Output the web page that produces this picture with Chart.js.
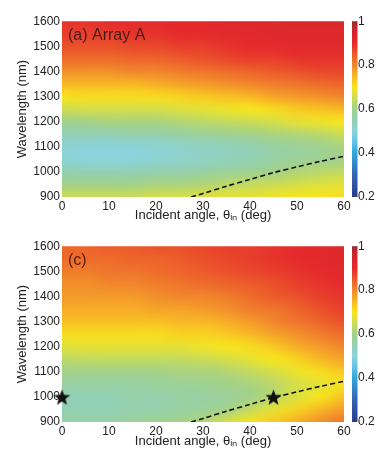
<!DOCTYPE html>
<html>
<head>
<meta charset="utf-8">
<script src="https://cdn.jsdelivr.net/npm/chart.js@4.4.1/dist/chart.umd.min.js"></script>
<style>
  html, body { margin: 0; padding: 0; background: #fff; }
  canvas { display: block; }
</style>
</head>
<body>
<canvas id="chartA" width="382" height="225"></canvas>
<canvas id="chartC" width="382" height="226"></canvas>
<script>
// grid of the maps: angles (deg) across, wavelengths (nm) from top to bottom
const angles = [0, 5, 10, 15, 20, 25, 30, 35, 40, 45, 50, 55, 60];
const wavelengths = [1600, 1550, 1500, 1450, 1400, 1350, 1300, 1250, 1200, 1150, 1100, 1050, 1000, 950, 900];

// (a) Array A, one row per wavelength
const absArrayA = [
    [0.89, 0.89, 0.90, 0.90, 0.90, 0.91, 0.91, 0.92, 0.92, 0.92, 0.93, 0.93, 0.93],
    [0.88, 0.88, 0.88, 0.89, 0.89, 0.90, 0.90, 0.91, 0.91, 0.92, 0.92, 0.92, 0.92],
    [0.86, 0.86, 0.86, 0.87, 0.87, 0.88, 0.88, 0.89, 0.90, 0.90, 0.91, 0.91, 0.91],
    [0.83, 0.83, 0.83, 0.84, 0.84, 0.85, 0.86, 0.87, 0.88, 0.88, 0.89, 0.89, 0.89],
    [0.79, 0.79, 0.79, 0.80, 0.80, 0.81, 0.82, 0.83, 0.84, 0.85, 0.86, 0.87, 0.87],
    [0.75, 0.75, 0.75, 0.75, 0.76, 0.77, 0.78, 0.79, 0.80, 0.81, 0.82, 0.83, 0.84],
    [0.70, 0.71, 0.71, 0.71, 0.71, 0.72, 0.73, 0.74, 0.75, 0.77, 0.78, 0.79, 0.80],
    [0.65, 0.66, 0.66, 0.66, 0.66, 0.67, 0.68, 0.69, 0.70, 0.71, 0.73, 0.74, 0.75],
    [0.60, 0.60, 0.61, 0.61, 0.61, 0.62, 0.63, 0.64, 0.65, 0.66, 0.68, 0.69, 0.70],
    [0.55, 0.55, 0.55, 0.56, 0.56, 0.57, 0.58, 0.59, 0.60, 0.61, 0.62, 0.63, 0.65],
    [0.51, 0.50, 0.50, 0.50, 0.51, 0.52, 0.53, 0.54, 0.55, 0.57, 0.58, 0.59, 0.61],
    [0.51, 0.50, 0.50, 0.50, 0.51, 0.52, 0.53, 0.54, 0.55, 0.57, 0.58, 0.59, 0.60],
    [0.55, 0.55, 0.55, 0.55, 0.56, 0.56, 0.57, 0.58, 0.59, 0.60, 0.62, 0.63, 0.64],
    [0.60, 0.60, 0.60, 0.60, 0.61, 0.61, 0.62, 0.63, 0.64, 0.65, 0.66, 0.67, 0.68],
    [0.65, 0.65, 0.65, 0.65, 0.66, 0.66, 0.67, 0.68, 0.68, 0.69, 0.70, 0.70, 0.71]
];

// (c)
const absArrayC = [
    [0.84, 0.84, 0.85, 0.85, 0.86, 0.86, 0.87, 0.88, 0.88, 0.89, 0.90, 0.91, 0.92],
    [0.83, 0.83, 0.83, 0.84, 0.84, 0.85, 0.86, 0.87, 0.88, 0.89, 0.90, 0.91, 0.92],
    [0.81, 0.81, 0.82, 0.82, 0.83, 0.84, 0.85, 0.86, 0.87, 0.88, 0.89, 0.90, 0.91],
    [0.79, 0.79, 0.80, 0.80, 0.81, 0.82, 0.83, 0.84, 0.85, 0.86, 0.88, 0.89, 0.90],
    [0.78, 0.78, 0.78, 0.78, 0.79, 0.80, 0.80, 0.81, 0.83, 0.85, 0.86, 0.88, 0.89],
    [0.76, 0.76, 0.76, 0.76, 0.77, 0.77, 0.78, 0.79, 0.81, 0.82, 0.84, 0.86, 0.88],
    [0.74, 0.74, 0.74, 0.74, 0.74, 0.75, 0.75, 0.76, 0.78, 0.80, 0.82, 0.84, 0.86],
    [0.71, 0.71, 0.71, 0.71, 0.71, 0.72, 0.72, 0.73, 0.75, 0.77, 0.79, 0.81, 0.83],
    [0.67, 0.68, 0.68, 0.68, 0.68, 0.68, 0.69, 0.70, 0.71, 0.73, 0.76, 0.78, 0.80],
    [0.63, 0.64, 0.64, 0.64, 0.64, 0.64, 0.65, 0.66, 0.68, 0.70, 0.72, 0.75, 0.77],
    [0.60, 0.60, 0.60, 0.60, 0.60, 0.61, 0.61, 0.62, 0.64, 0.66, 0.69, 0.71, 0.73],
    [0.57, 0.57, 0.57, 0.57, 0.58, 0.58, 0.59, 0.60, 0.61, 0.63, 0.66, 0.68, 0.70],
    [0.55, 0.55, 0.55, 0.56, 0.56, 0.57, 0.57, 0.58, 0.60, 0.63, 0.67, 0.70, 0.74],
    [0.55, 0.55, 0.55, 0.56, 0.56, 0.57, 0.58, 0.60, 0.64, 0.68, 0.72, 0.75, 0.78],
    [0.57, 0.57, 0.57, 0.58, 0.59, 0.60, 0.62, 0.66, 0.70, 0.73, 0.76, 0.79, 0.82]
];

// dashed cut-off curve and the two stars
const cutoffAngle = [27.5, 30, 35, 40, 45, 50, 55, 60];
const cutoffWl = [900, 914, 943, 970, 997, 1020, 1042, 1062];
const starAngle = [0, 45];
const starWl = [1000, 1000];

// colour bar
const cbTicks = [0.2, 0.4, 0.6, 0.8, 1];
const cmapStops = [
    [0.2, '#2b3a8e'], [0.3, '#3465b0'], [0.4, '#30a6df'], [0.45, '#62c3e6'],
    [0.5, '#8cd3da'], [0.55, '#92d0b4'], [0.6, '#a2d18a'], [0.65, '#cbdc55'],
    [0.7, '#f7e51e'], [0.75, '#f8b726'], [0.8, '#f1862c'], [0.85, '#ec5b2b'],
    [0.9, '#e52a2c'], [0.95, '#d3262d'], [1.0, '#9e2a2e']
];

const txt = '#222';
Chart.defaults.font.family = '"Liberation Sans", Arial, sans-serif';
Chart.defaults.color = txt;

function hexRgb(h) {
    return [parseInt(h.slice(1, 3), 16), parseInt(h.slice(3, 5), 16), parseInt(h.slice(5, 7), 16)];
}
function colorAt(v) {
    v = Math.max(0.2, Math.min(1, v));
    for (let k = 1; k < cmapStops.length; k++) {
        const [v1, c1] = cmapStops[k];
        if (v <= v1) {
            const [v0, c0] = cmapStops[k - 1];
            const t = (v - v0) / (v1 - v0);
            const a = hexRgb(c0), b = hexRgb(c1);
            return [0, 1, 2].map(i => Math.round(a[i] + (b[i] - a[i]) * t));
        }
    }
    return hexRgb(cmapStops[cmapStops.length - 1][1]);
}

function makeStar(size) {
    const c = document.createElement('canvas');
    c.width = c.height = size;
    const g = c.getContext('2d');
    const R = size / 2, r = R * 0.42;
    g.beginPath();
    for (let k = 0; k < 10; k++) {
        const rad = k % 2 ? r : R;
        const a = -Math.PI / 2 + k * Math.PI / 5;
        g.lineTo(size / 2 + rad * Math.cos(a), size / 2 + 1 + rad * Math.sin(a));
    }
    g.closePath();
    g.fillStyle = '#111';
    g.fill();
    return c;
}

const heatmapPlugin = {
    id: 'heatmap',
    beforeDatasetsDraw(chart, args, opts) {
        const grid = opts.values;
        if (!grid) return;
        const nx = angles.length, ny = wavelengths.length;
        const off = document.createElement('canvas');
        off.width = nx; off.height = ny;
        const octx = off.getContext('2d');
        const img = octx.createImageData(nx, ny);
        for (let j = 0; j < ny; j++) {
            for (let i = 0; i < nx; i++) {
                const c = colorAt(grid[j][i]);
                const p = (j * nx + i) * 4;
                img.data[p] = c[0]; img.data[p + 1] = c[1]; img.data[p + 2] = c[2]; img.data[p + 3] = 255;
            }
        }
        octx.putImageData(img, 0, 0);
        const { x, y } = chart.scales;
        const area = chart.chartArea;
        const dA = (angles[1] - angles[0]) / 2;
        const dW = (wavelengths[0] - wavelengths[1]) / 2;
        const left = x.getPixelForValue(angles[0] - dA);
        const right = x.getPixelForValue(angles[nx - 1] + dA);
        const top = y.getPixelForValue(wavelengths[0] + dW);
        const bottom = y.getPixelForValue(wavelengths[ny - 1] - dW);
        const ctx = chart.ctx;
        ctx.save();
        ctx.beginPath();
        ctx.rect(area.left, area.top, area.right - area.left, area.bottom - area.top);
        ctx.clip();
        ctx.imageSmoothingEnabled = true;
        ctx.imageSmoothingQuality = 'high';
        ctx.drawImage(off, left, top, right - left, bottom - top);
        ctx.restore();
    },
    afterDraw(chart, args, opts) {
        const ctx = chart.ctx;
        const area = chart.chartArea;
        // colour bar
        const cb = chart.scales.yc;
        const yTop = cb.getPixelForValue(1), yBot = cb.getPixelForValue(0.2);
        const g = ctx.createLinearGradient(0, yBot, 0, yTop);
        cmapStops.forEach(([v, c]) => g.addColorStop((v - 0.2) / 0.8, c));
        ctx.save();
        ctx.fillStyle = g;
        ctx.fillRect(area.right + 8, yTop, 5.5, yBot - yTop);
        // panel label
        ctx.fillStyle = opts.labelColor;
        ctx.font = '16px "Liberation Sans", Arial, sans-serif';
        ctx.textBaseline = 'alphabetic';
        ctx.fillText(opts.label, area.left + 6, area.top + 18.5);
        ctx.restore();
    }
};

function makeOptions(values, label, labelColor, xHeight) {
    return {
        responsive: false,
        animation: false,
        layout: { padding: { top: 20, left: 0, right: 0, bottom: 0 } },
        plugins: {
            legend: { display: false },
            tooltip: { enabled: false },
            heatmap: { values: values, label: label, labelColor: labelColor }
        },
        scales: {
            x: {
                type: 'linear', min: 0, max: 60,
                ticks: { stepSize: 10, padding: 2, maxRotation: 0, font: { size: 12 }, color: txt, callback: v => String(v) },
                grid: { display: false, drawTicks: false },
                border: { display: false },
                title: { display: true, text: 'Incident angle, θᵢₙ (deg)', font: { size: 13 }, color: txt, padding: { top: 0, bottom: 2 } },
                afterFit: s => { s.height = xHeight; }
            },
            y: {
                type: 'linear', min: 900, max: 1600,
                ticks: { stepSize: 100, padding: 2, font: { size: 12 }, color: txt, callback: v => String(v) },
                grid: { display: false, drawTicks: false },
                border: { display: false },
                title: { display: true, text: 'Wavelength (nm)', font: { size: 13 }, color: txt, padding: { top: 15, bottom: 0 } },
                afterFit: s => { s.width = 62; }
            },
            yc: {
                type: 'linear', position: 'right', min: 0.2, max: 1,
                afterBuildTicks: s => { s.ticks = cbTicks.map(v => ({ value: v })); },
                ticks: { padding: 14, font: { size: 12 }, color: txt, callback: v => String(+v.toFixed(1)) },
                grid: { display: false, drawTicks: false },
                border: { display: false },
                afterFit: s => { s.width = 38; }
            }
        }
    };
}

const cutoffPoints = cutoffAngle.map((a, i) => ({ x: a, y: cutoffWl[i] }));
const starPoints = starAngle.map((a, i) => ({ x: a, y: starWl[i] }));

const lineSet = {
    data: cutoffPoints,
    showLine: true,
    borderColor: '#111',
    borderWidth: 1.6,
    borderDash: [5, 3],
    pointRadius: 0,
    tension: 0.3
};

const chartA = new Chart(document.getElementById('chartA'), {
    type: 'scatter',
    data: { datasets: [Object.assign({}, lineSet)] },
    options: makeOptions(absArrayA, '(a) Array A', '#4a1a1a', 28),
    plugins: [heatmapPlugin]
});

const chartC = new Chart(document.getElementById('chartC'), {
    type: 'scatter',
    data: {
        datasets: [
            Object.assign({}, lineSet),
            {
                data: starPoints,
                pointStyle: makeStar(17),
                pointRadius: 8,
                clip: false
            }
        ]
    },
    options: makeOptions(absArrayC, '(c)', '#5a2010', 29),
    plugins: [heatmapPlugin]
});
</script>
</body>
</html>
